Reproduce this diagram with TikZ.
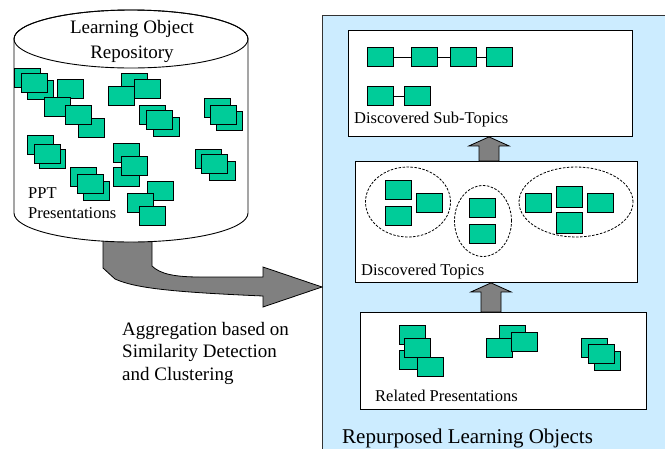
\documentclass[tikz,border=0pt]{standalone}
\usepackage{fontspec}
\setmainfont{Liberation Serif}
\usetikzlibrary{shapes.geometric,calc}
\definecolor{slidegreen}{HTML}{00CC99}
\definecolor{panelblue}{HTML}{CCECFF}
\definecolor{arrowgray}{HTML}{808080}
\tikzset{
  slide/.style={draw, fill=slidegreen, line width=0.8pt, minimum width=26pt, minimum height=19pt, inner sep=0pt, anchor=north west},
  panel/.style={draw, fill=white, line width=0.9pt, inner sep=0pt, anchor=north west},
  topicset/.style={draw, ellipse, dash pattern=on 2.5pt off 1.5pt, line width=0.8pt, inner sep=0pt},
  blockarrow/.style={draw, fill=arrowgray, line width=0.8pt, line join=miter},
  smalltext/.style={inner sep=0pt, anchor=base west, font=\fontsize{16.5}{19}\selectfont},
  bigtext/.style={inner sep=0pt, anchor=base west, font=\fontsize{19}{22}\selectfont}
}
% up block arrow: tip node, base node, x of the shaft
\newcommand{\blockup}[3]{%
  \coordinate (#1tip) at (#3,0 |- #1.south);
  \coordinate (#2base) at (#3,0 |- #2.north);
  \draw[blockarrow] ($(#2base)+(-10,0)$) -- ($(#1tip)+(-10,9)$) -- ($(#1tip)+(-20,9)$) -- (#1tip)
    -- ($(#1tip)+(20,9)$) -- ($(#1tip)+(10,9)$) -- ($(#2base)+(10,0)$) -- cycle;}
\begin{document}
\begin{tikzpicture}[x=1pt,y=-1pt]
\useasboundingbox (0,0) rectangle (665,448);
\clip (0,0) rectangle (665,448);
% right side panel
\node[draw=black!80, fill=panelblue, line width=1pt, minimum width=380pt, minimum height=460pt, anchor=north west] (repurposed) at (322,15) {};
% arrow out of the repository
\coordinate (aggtip) at (repurposed.west |- 0,287);
\draw[blockarrow] (103,230) -- (103,268) -- (115,279) .. controls (135,288) and (170,292) .. (263,296) -- (263,307) -- (aggtip)
  -- (263,267) -- (263,277) -- (200,277) .. controls (175,277) and (160,274) .. (152,266) -- (152,230) -- cycle;
% repository cylinder
\draw[fill=white, line width=0.9pt] (14,39) -- (14,213) arc[start angle=180, end angle=360, x radius=117pt, y radius=29pt]
  -- (248,39) arc[start angle=0, end angle=180, x radius=117pt, y radius=29pt] -- cycle;
\draw[line width=0.9pt] (131,39) ellipse [x radius=117pt, y radius=29pt];
\foreach \x/\y [count=\i] in {14/68, 27/80, 21/73, 57/79, 44/97, 78/118, 65/105,
    121/73, 108/86, 134/79, 139/105, 153/117, 146/110, 204/98, 216/111, 210/105,
    27/135, 39/149, 34/144, 113/143, 113/167, 121/156, 195/149, 209/161, 201/154,
    70/167, 83/181, 77/174, 147/181, 127/193, 139/206}
  \node[slide] (ppt\i) at (\x,\y) {};
\node[bigtext, anchor=base] (repotitle) at (132,33) {Learning Object};
\node[bigtext, anchor=base] (repotitle2) at (132,58) {Repository};
\node[smalltext] (pptlabel) at (28,198) {PPT};
\node[smalltext] (pptlabel2) at (28,218) {Presentations};
\node[bigtext] (agglabel) at (122,335) {Aggregation based on};
\node[bigtext] (agglabel2) at (122,357) {Similarity Detection};
\node[bigtext] (agglabel3) at (122,380) {and Clustering};
% the three panels
\node[panel, minimum width=284pt, minimum height=106pt] (subtopics) at (348,30) {};
\node[panel, minimum width=282pt, minimum height=121pt] (topics) at (355,161) {};
\node[panel, minimum width=286pt, minimum height=97pt] (related) at (360,312) {};
% sub-topics
\node[slide] (st1) at (367,47) {};
\node[slide] (st2) at (411,47) {};
\node[slide] (st3) at (450,47) {};
\node[slide] (st4) at (486,47) {};
\node[slide] (st5) at (367,86) {};
\node[slide] (st6) at (404,86) {};
\draw[line width=0.8pt] (st1) -- (st2) (st2) -- (st3) (st3) -- (st4) (st5) -- (st6);
\node[smalltext] (sublabel) at (354,123) {Discovered Sub-Topics};
% topics
\node[topicset, minimum width=85pt, minimum height=70pt] (set1) at (408,202) {};
\node[topicset, minimum width=57pt, minimum height=71pt] (set2) at (483,221) {};
\node[topicset, minimum width=114pt, minimum height=70pt] (set3) at (576,202) {};
\node[slide] (tp1) at (385,180) {};
\node[slide] (tp2) at (385,206) {};
\node[slide] (tp3) at (416,193) {};
\node[slide] (tp4) at (469,198) {};
\node[slide] (tp5) at (469,224) {};
\node[slide] (tp6) at (525,193) {};
\node[slide, minimum height=21pt] (tp7) at (556,186) {};
\node[slide, minimum height=21pt] (tp8) at (556,212) {};
\node[slide] (tp9) at (587,193) {};
\node[smalltext] (toplabel) at (361,275) {Discovered Topics};
% related presentations
\node[slide] (rp1) at (399,325) {};
\node[slide] (rp2) at (399,350) {};
\node[slide] (rp3) at (404,338) {};
\node[slide] (rp4) at (417,357) {};
\node[slide] (rp5) at (499,325) {};
\node[slide] (rp6) at (486,338) {};
\node[slide] (rp7) at (511,332) {};
\node[slide] (rp8) at (581,338) {};
\node[slide] (rp9) at (594,351) {};
\node[slide] (rp10) at (588,344) {};
\node[smalltext] (rellabel) at (375,401) {Related Presentations};
% arrows between panels
\blockup{subtopics}{topics}{489}
\blockup{topics}{related}{491}
\node[bigtext, font=\fontsize{21}{24}\selectfont] (replabel) at (342,443) {Repurposed Learning Objects};
\end{tikzpicture}
\end{document}
